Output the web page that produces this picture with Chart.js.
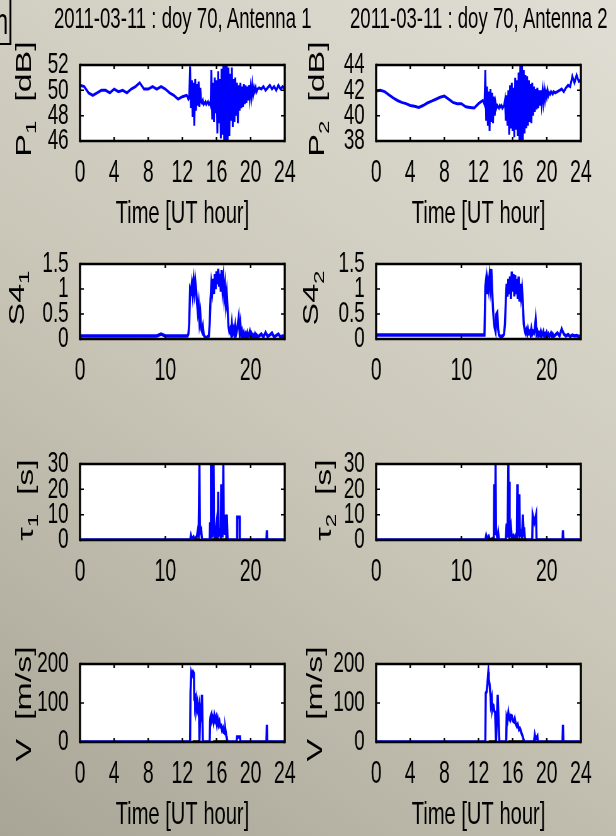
<!DOCTYPE html>
<html lang="en">
<head>
<meta charset="UTF-8">
<title>2011-03-11 : doy 70</title>
<script src="https://cdn.jsdelivr.net/npm/chart.js"></script>
<style>
    html, body { margin: 0; padding: 0; }
    body {
        width: 616px; height: 836px; overflow: hidden; position: relative;
        background: linear-gradient(215deg, #e0ded4 0%, #cbc8ba 50%, #a9a596 100%);
        font-family: "Liberation Sans", Arial, sans-serif;
        color: #000;
    }
    /* the whole figure is squeezed horizontally, like the original */
    #fig {
        position: absolute; left: 0; top: 0; width: 978px; height: 836px;
        transform: scaleX(0.63); transform-origin: 0 0;
    }
    #fig canvas { position: absolute; }
    .title { position: absolute; font-size: 29.5px; white-space: nowrap; transform: translateX(-50%); }
    .ylab {
        position: absolute; font-size: 34px; white-space: nowrap;
        transform: translate(-50%, -50%) rotate(-90deg);
    }
    .ylab sub { font-size: 24px; vertical-align: -8px; }
    #corner {
        position: absolute; left: -40px; top: -3px; width: 58px; height: 48px;
        box-sizing: border-box; border: 2px solid #000; border-right-width: 3px;
        font-size: 36px; line-height: 40px; padding-top: 3px; text-align: right; padding-right: 2px;
    }
</style>
</head>
<body>
<div id="fig">
    <div id="corner">n</div>
    <div class="title" style="left:290px; top:1px">2011-03-11 : doy 70, Antenna 1</div>
    <div class="title" style="left:760px; top:1px">2011-03-11 : doy 70, Antenna 2</div>

    <div class="ylab" style="left:41px; top:99px">P<sub>1</sub>&nbsp; [dB]</div>
    <div class="ylab" style="left:505px; top:99px">P<sub>2</sub>&nbsp; [dB]</div>
    <div class="ylab" style="left:29px; top:298px">S4<sub>1</sub></div>
    <div class="ylab" style="left:497px; top:298px">S4<sub>2</sub></div>
    <div class="ylab" style="left:44px; top:500px">&tau;<sub>1</sub>&nbsp; [s]</div>
    <div class="ylab" style="left:517px; top:500px">&tau;<sub>2</sub>&nbsp; [s]</div>
    <div class="ylab" style="left:38px; top:704px">V&nbsp; [m/s]</div>
    <div class="ylab" style="left:500px; top:704px">V&nbsp; [m/s]</div>

    <canvas id="p1" width="445" height="199" style="left:37px; top:37px"></canvas>
    <canvas id="p2" width="445" height="199" style="left:507px; top:37px"></canvas>
    <canvas id="s41" width="445" height="153" style="left:37px; top:236px"></canvas>
    <canvas id="s42" width="445" height="153" style="left:507px; top:236px"></canvas>
    <canvas id="tau1" width="445" height="154" style="left:37px; top:436px"></canvas>
    <canvas id="tau2" width="445" height="154" style="left:507px; top:436px"></canvas>
    <canvas id="v1" width="445" height="201" style="left:37px; top:636px"></canvas>
    <canvas id="v2" width="445" height="201" style="left:507px; top:636px"></canvas>
</div>

<script>
    // time grid (UT hour) shared by the power and S4 series
    const hours = [
        0, 0.5, 1, 1.5, 2, 2.5, 3, 3.5, 4, 4.5, 5, 5.5, 6, 6.5, 7, 7.5, 8, 8.5, 9, 9.5,
        10, 10.5, 11, 11.5, 12, 12.5,
        12.6, 12.7, 12.8, 12.9, 13.0, 13.1, 13.2, 13.3, 13.4, 13.5,
        13.6, 13.7, 13.8, 13.9, 14.0, 14.1, 14.2, 14.3, 14.4, 14.5,
        14.6, 14.7, 14.8, 14.9, 15.0, 15.1, 15.2, 15.3, 15.4, 15.5,
        15.6, 15.7, 15.8, 15.9, 16.0, 16.1, 16.2, 16.3, 16.4, 16.5,
        16.6, 16.7, 16.8, 16.9, 17.0, 17.1, 17.2, 17.3, 17.4, 17.5,
        17.6, 17.7, 17.8, 17.9, 18.0, 18.1, 18.2, 18.3, 18.4, 18.5,
        18.6, 18.7, 18.8, 18.9, 19.0, 19.1, 19.2, 19.3, 19.4, 19.5,
        19.6, 19.7, 19.8, 19.9, 20.0, 20.1, 20.2, 20.3, 20.4, 20.5,
        20.6, 20.7, 20.8,
        21, 21.25, 21.5, 21.75, 22, 22.25, 22.5, 22.75, 23, 23.25, 23.5, 23.75, 24
    ];

    // signal power [dB], antenna 1 and 2
    const p1 = [
        50.4, 50.3, 49.8, 49.6, 49.8, 50.0, 50.0, 49.8, 50.1, 49.9,
        50.0, 49.8, 50.1, 50.3, 50.6, 50.1, 50.1, 50.3, 50.1, 50.3,
        50.1, 49.8, 49.6, 49.3, 49.5, 49.6,
        49.5, 49.3, 49.4, 51.9, 48.6, 50.8, 47.9, 50.6, 47.2, 50.9,
        48.4, 50.5, 48.8, 50.7, 48.7, 50.2, 49.1, 49.0, 49.2, 48.9,
        49.0, 49.1, 48.9, 49.0, 49.1, 48.9, 49.0, 48.8, 51.6, 47.7,
        50.6, 47.5, 51.0, 48.2, 50.8, 46.6, 51.5, 47.4, 50.9, 46.2,
        51.7, 46.5, 52.0, 46.0, 52.0, 46.0, 52.0, 46.0, 51.8, 46.4,
        51.3, 47.6, 51.8, 47.1, 50.9, 47.5, 51.0, 48.0, 50.6, 47.4,
        50.4, 48.4, 50.6, 48.6, 50.3, 48.7, 50.5, 48.9, 50.4, 49.0,
        50.3, 49.2, 50.4, 49.4, 50.2, 49.5, 50.4, 49.7, 50.2, 49.9,
        50.2, 49.9, 50.1,
        50.2, 50.1, 50.3, 50.0, 50.2, 50.4, 50.1, 50.3, 50.0, 50.4, 50.1, 50.3, 50.1
    ];
    const p2 = [
        41.95, 42.0, 41.9, 41.65, 41.4, 41.2, 41.05, 40.95, 40.8, 40.75,
        40.65, 40.8, 41.0, 41.15, 41.3, 41.45, 41.55, 41.3, 41.05, 40.95,
        40.95, 40.7, 40.65, 40.6, 40.95, 41.2,
        41.1, 40.9, 43.6, 39.6, 42.3, 39.2, 41.9, 38.8, 42.1, 39.5,
        41.8, 39.4, 41.5, 40.0, 41.0, 40.6, 40.8, 40.7, 40.6, 40.8,
        40.7, 40.8, 40.6, 40.7, 40.8, 41.2, 39.6, 41.6, 39.2, 42.0,
        38.5, 42.4, 39.0, 42.6, 38.8, 42.2, 38.3, 43.0, 38.9, 42.8,
        38.4, 43.4, 38.0, 44.0, 38.0, 44.0, 38.0, 43.6, 38.6, 43.2,
        39.0, 43.1, 39.2, 42.8, 39.5, 42.5, 39.4, 42.6, 40.0, 42.3,
        40.3, 42.1, 40.5, 42.2, 40.6, 42.0, 40.8, 42.0, 41.0, 41.9,
        41.1, 42.0, 41.3, 41.9, 41.5, 42.0, 41.6, 41.8, 41.7, 41.9,
        41.8, 41.7, 41.9,
        41.8, 41.9, 42.0, 42.1, 41.9, 42.2, 42.4, 42.3, 43.1, 42.6, 43.2, 42.7, 42.8
    ];

    // S4 index, antenna 1 and 2
    const s41 = [
        0.06, 0.06, 0.06, 0.06, 0.06, 0.06, 0.06, 0.06, 0.06, 0.06,
        0.06, 0.06, 0.06, 0.06, 0.06, 0.06, 0.06, 0.06, 0.06, 0.1,
        0.06, 0.06, 0.06, 0.06, 0.06, 0.06,
        0.06, 0.1, 0.3, 1.0, 0.95, 1.1, 0.9, 1.15, 0.95, 1.17,
        1.0, 0.75, 0.55, 0.7, 0.35, 0.5, 0.2, 0.15, 0.25, 0.08,
        0.05, 0.03, 0.02, 0.04, 0.05, 0.06, 0.3, 0.8, 1.1, 0.95,
        1.2, 0.9, 1.3, 1.0, 1.35, 1.1, 1.4, 1.05, 1.3, 0.95,
        1.38, 1.0, 1.2, 0.85, 1.05, 0.7, 0.9, 0.6, 0.25, 0.15,
        0.2, 0.1, 0.3, 0.12, 0.2, 0.08, 0.25, 0.1, 0.18, 0.3,
        0.43, 0.15, 0.3, 0.06, 0.15, 0.05, 0.12, 0.04, 0.1, 0.05,
        0.12, 0.04, 0.09, 0.15, 0.05, 0.1, 0.03, 0.08, 0.05, 0.1,
        0.04, 0.08, 0.05,
        0.06, 0.1, 0.04, 0.13, 0.05, 0.08, 0.12, 0.04, 0.07, 0.1, 0.04, 0.06, 0.05
    ];
    const s42 = [
        0.08, 0.08, 0.08, 0.08, 0.08, 0.08, 0.08, 0.08, 0.08, 0.08,
        0.08, 0.08, 0.08, 0.08, 0.08, 0.08, 0.08, 0.08, 0.08, 0.08,
        0.08, 0.08, 0.08, 0.08, 0.08, 0.08,
        0.08, 0.08, 1.05, 1.2, 0.9, 1.15, 1.0, 1.25, 1.05, 1.4,
        1.0, 0.6, 0.35, 0.22, 0.15, 0.5, 0.53, 0.2, 0.08, 0.06,
        0.05, 0.05, 0.06, 0.07, 0.1, 0.3, 0.75, 1.1, 0.85, 1.2,
        0.9, 1.25, 0.8, 1.35, 0.95, 1.3, 0.85, 1.28, 0.9, 1.2,
        0.8, 1.25, 0.75, 1.1, 0.85, 1.0, 0.75, 0.3, 0.2, 0.12,
        0.18, 0.1, 0.2, 0.12, 0.15, 0.08, 0.2, 0.1, 0.15, 0.12,
        0.2, 0.38, 0.1, 0.15, 0.06, 0.12, 0.08, 0.15, 0.05, 0.1,
        0.15, 0.06, 0.1, 0.05, 0.12, 0.06, 0.1, 0.05, 0.08, 0.12,
        0.06, 0.1, 0.05,
        0.08, 0.12, 0.06, 0.2, 0.1, 0.06, 0.09, 0.05, 0.08, 0.06, 0.07, 0.05, 0.06
    ];

    // decorrelation time tau [s]
    const tau1Hours = [0, 12.9, 13.0, 13.1, 13.3, 13.4, 13.7, 13.8, 13.9, 14.0, 14.05, 14.2, 14.3,
        15.2, 15.25, 15.3, 15.35, 15.4, 15.45, 15.5, 15.55, 15.6, 15.65, 15.7, 15.8,
        16.0, 16.05, 16.15, 16.2, 16.25, 16.4, 16.5, 16.55, 16.6, 16.65, 16.7, 16.8, 16.85, 16.9,
        17.0, 17.1, 17.15, 17.2, 17.3, 18.4, 18.42, 18.7, 18.72, 21.85, 21.9, 21.95, 24];
    const tau1 = [0, 0, 1.8, 0.5, 1.2, 0, 1.5, 3.6, 2, 30, 3, 4.1, 0,
        0, 7, 0, 30, 2, 30, 1, 30, 4, 30, 6, 0,
        6.3, 1, 3, 19, 2, 3.5, 1, 22, 4, 8, 1, 30, 3, 8,
        2, 10, 1, 10, 0, 0, 9, 9, 0, 0, 3.8, 0, 0];
    const tau2Hours = [0, 12.8, 12.9, 13.0, 13.2, 13.3, 13.4, 13.8, 13.85, 13.95,
        14.0, 14.05, 14.1, 14.2, 14.3, 14.4, 15.2, 15.3, 15.4, 15.5,
        15.55, 15.6, 15.65, 15.8, 15.9, 16.1, 16.2, 16.4, 16.5, 16.55,
        16.6, 16.7, 16.8, 16.85, 16.95, 17.1, 17.2, 17.3, 17.35, 17.45,
        18.3, 18.35, 18.55, 18.75, 18.8, 21.85, 21.9, 21.95, 24];
    const tau2 = [0, 0, 1.8, 0.6, 1.5, 0.5, 0, 1, 22, 2,
        30, 3, 2.4, 1, 3, 0, 0, 6.5, 1, 30,
        5, 23, 2, 5.2, 1, 1.8, 0.5, 2, 1, 22,
        2, 3.5, 18, 2, 3, 1, 10, 2, 5, 0,
        0, 10, 7, 10, 0, 0, 3.8, 0, 0];

    // drift velocity V [m/s]
    const v1Hours = [0, 12.9, 12.95, 13.05, 13.15, 13.25, 13.35, 13.4, 13.45, 13.5,
        13.6, 13.65, 13.75, 13.8, 13.85, 13.95, 14.0, 14.1, 14.2, 14.3,
        14.4, 15.2, 15.25, 15.3, 15.4, 15.45, 15.55, 15.65, 15.75, 15.85,
        15.95, 16.05, 16.15, 16.25, 16.35, 16.45, 16.55, 16.65, 16.75, 16.85,
        16.9, 17.0, 17.05, 17.15, 17.2, 17.3, 18.35, 18.4, 18.75, 18.8,
        21.85, 21.9, 21.95, 24];
    const v1 = [0, 0, 129, 179, 172, 180, 176, 106, 125, 95,
        108, 85, 98, 80, 75, 90, 0, 83, 70, 121,
        0, 0, 52, 65, 71, 55, 62, 50, 67, 55,
        63, 45, 58, 44, 52, 40, 42, 30, 35, 25,
        29, 22, 30, 15, 9, 0, 0, 13, 13, 0,
        0, 44, 0, 0];
    const v2Hours = [0, 12.8, 12.85, 12.95, 13.05, 13.15, 13.2, 13.3, 13.4, 13.45,
        13.55, 13.6, 13.7, 13.75, 13.85, 13.95, 14.05, 14.1, 14.25, 14.35,
        14.45, 15.25, 15.3, 15.4, 15.5, 15.6, 15.7, 15.8, 15.9, 16.0,
        16.15, 16.25, 16.35, 16.5, 16.6, 16.75, 16.85, 16.95, 17.05, 17.2,
        17.35, 18.5, 18.6, 18.7, 18.9, 18.95, 21.85, 21.9, 21.95, 24];
    const v2 = [0, 0, 125, 129, 150, 179, 160, 148, 120, 98,
        110, 83, 95, 94, 80, 75, 0, 0, 121, 60,
        0, 0, 63, 55, 75, 60, 56, 68, 67, 55,
        52, 60, 48, 40, 45, 32, 35, 29, 22, 13,
        0, 0, 18, 8, 15, 0, 0, 44, 0, 0];

    // black marks on the zero line where tau / V are flagged
    const tau1FlagHours = [13.5, 14.0, 14.05, 15.5, 17.2];
    const tau2FlagHours = [13.0, 14.1, 14.15, 15.5, 17.6];
    const v1FlagHours = [13.2, 14.0, 14.05, 15.6, 17.2];
    const v2FlagHours = [13.2, 14.1, 14.15, 15.5, 17.2];
    const flagValues = [0, 0, null, 0, 0];

    // tick labels
    const hourTicks4 = [0, 4, 8, 12, 16, 20, 24];
    const hourTicks10 = [0, 10, 20];
    const p1Ticks = [46, 48, 50, 52];
    const p2Ticks = [38, 40, 42, 44];
    const s4Ticks = [0, 0.5, 1, 1.5];
    const tauTicks = [0, 10, 20, 30];
    const vTicks = [0, 100, 200];

    Chart.defaults.font.family = '"Liberation Sans", Arial, sans-serif';
    Chart.defaults.color = '#000';

    const pairs = (xs, ys) => xs.map((x, i) => ({ x: x, y: ys[i] }));

    // white plot area, inward ticks on all four sides and the box (MATLAB look)
    const framePlugin = {
        id: 'frame',
        beforeDraw(chart) {
            const { ctx, chartArea: a } = chart;
            ctx.save();
            ctx.fillStyle = '#fff';
            ctx.fillRect(a.left, a.top, a.right - a.left, a.bottom - a.top);
            ctx.restore();
        },
        afterDraw(chart) {
            const { ctx, chartArea: a, scales } = chart;
            ctx.save();
            ctx.strokeStyle = '#000';
            ctx.lineWidth = 2.4;
            scales.x.ticks.forEach(t => {
                const px = scales.x.getPixelForValue(t.value);
                ctx.beginPath();
                ctx.moveTo(px, a.bottom); ctx.lineTo(px, a.bottom - 4);
                ctx.moveTo(px, a.top); ctx.lineTo(px, a.top + 4);
                ctx.stroke();
            });
            ctx.lineWidth = 1.5;
            scales.y.ticks.forEach(t => {
                const py = scales.y.getPixelForValue(t.value);
                ctx.beginPath();
                ctx.moveTo(a.left, py); ctx.lineTo(a.left + 6, py);
                ctx.moveTo(a.right, py); ctx.lineTo(a.right - 6, py);
                ctx.stroke();
            });
            ctx.lineWidth = 2.4;
            ctx.beginPath();
            ctx.moveTo(a.left, a.top); ctx.lineTo(a.right, a.top);
            ctx.moveTo(a.left, a.bottom); ctx.lineTo(a.right, a.bottom);
            ctx.stroke();
            ctx.lineWidth = 3.4;
            ctx.beginPath();
            ctx.moveTo(a.left, a.top - 1.2); ctx.lineTo(a.left, a.bottom + 1.2);
            ctx.moveTo(a.right, a.top - 1.2); ctx.lineTo(a.right, a.bottom + 1.2);
            ctx.stroke();
            ctx.restore();
        }
    };

    function blueLine(data, width) {
        return { data: data, borderColor: '#0000ff', borderWidth: width, pointRadius: 0, tension: 0, fill: false };
    }
    function flagLine(xs) {
        return { data: pairs(xs, flagValues), borderColor: '#000', borderWidth: 3.5, pointRadius: 0, spanGaps: false };
    }

    function panel(id, datasets, xTicks, yTicks, xTitle) {
        return new Chart(document.getElementById(id), {
            type: 'line',
            data: { datasets: datasets },
            options: {
                responsive: false,
                animation: false,
                layout: { padding: { top: 20, right: 30, left: 0, bottom: 0 }, autoPadding: false },
                plugins: { legend: { display: false }, tooltip: { enabled: false } },
                scales: {
                    x: {
                        type: 'linear', min: 0, max: 24,
                        grid: { display: false }, border: { display: false },
                        afterBuildTicks: s => { s.ticks = xTicks.map(v => ({ value: v })); },
                        afterFit: s => { s.height = xTitle ? 95 : 50; },
                        ticks: { padding: 6, maxRotation: 0, autoSkip: false, font: { size: 31 }, callback: v => String(v) },
                        title: { display: !!xTitle, text: xTitle, font: { size: 32 }, padding: { top: 0, bottom: 3 } }
                    },
                    y: {
                        type: 'linear', min: yTicks[0], max: yTicks[yTicks.length - 1],
                        grid: { display: false }, border: { display: false },
                        afterBuildTicks: s => { s.ticks = yTicks.map(v => ({ value: v })); },
                        afterFit: s => { s.width = 90; },
                        ticks: { padding: 10, autoSkip: false, font: { size: 30 }, callback: v => String(v) }
                    }
                }
            },
            plugins: [framePlugin]
        });
    }

    const timeTitle = 'Time [UT hour]';
    panel('p1', [blueLine(pairs(hours, p1), 3)], hourTicks4, p1Ticks, timeTitle);
    panel('p2', [blueLine(pairs(hours, p2), 3)], hourTicks4, p2Ticks, timeTitle);
    panel('s41', [blueLine(pairs(hours, s41), 3.5)], hourTicks10, s4Ticks, '');
    panel('s42', [blueLine(pairs(hours, s42), 3.5)], hourTicks10, s4Ticks, '');
    panel('tau1', [flagLine(tau1FlagHours), blueLine(pairs(tau1Hours, tau1), 3.5)], hourTicks10, tauTicks, '');
    panel('tau2', [flagLine(tau2FlagHours), blueLine(pairs(tau2Hours, tau2), 3.5)], hourTicks10, tauTicks, '');
    panel('v1', [flagLine(v1FlagHours), blueLine(pairs(v1Hours, v1), 3.5)], hourTicks4, vTicks, timeTitle);
    panel('v2', [flagLine(v2FlagHours), blueLine(pairs(v2Hours, v2), 3.5)], hourTicks4, vTicks, timeTitle);
</script>
</body>
</html>
